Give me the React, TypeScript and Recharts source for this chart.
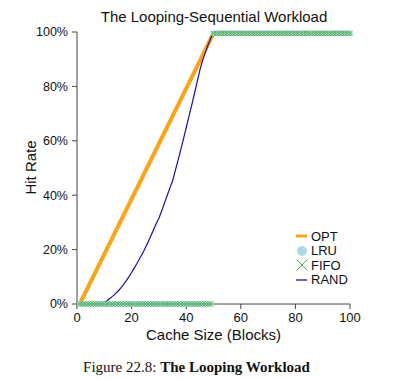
import {
  ComposedChart,
  Line,
  Scatter,
  XAxis,
  YAxis,
} from 'recharts';

// cache sizes (blocks) simulated for LRU / FIFO / RAND
const cacheSizes = [
  1, 2, 3, 4, 5, 6, 7, 8, 9, 10,
  11, 12, 13, 14, 15, 16, 17, 18, 19, 20,
  21, 22, 23, 24, 25, 26, 27, 28, 29, 30,
  31, 32, 33, 34, 35, 36, 37, 38, 39, 40,
  41, 42, 43, 44, 45, 46, 47, 48, 49, 50,
  51, 52, 53, 54, 55, 56, 57, 58, 59, 60,
  61, 62, 63, 64, 65, 66, 67, 68, 69, 70,
  71, 72, 73, 74, 75, 76, 77, 78, 79, 80,
  81, 82, 83, 84, 85, 86, 87, 88, 89, 90,
  91, 92, 93, 94, 95, 96, 97, 98, 99, 100,
];

const lruHit = [
  0, 0, 0, 0, 0, 0, 0, 0, 0, 0,
  0, 0, 0, 0, 0, 0, 0, 0, 0, 0,
  0, 0, 0, 0, 0, 0, 0, 0, 0, 0,
  0, 0, 0, 0, 0, 0, 0, 0, 0, 0,
  0, 0, 0, 0, 0, 0, 0, 0, 0, 99.5,
  99.5, 99.5, 99.5, 99.5, 99.5, 99.5, 99.5, 99.5, 99.5, 99.5,
  99.5, 99.5, 99.5, 99.5, 99.5, 99.5, 99.5, 99.5, 99.5, 99.5,
  99.5, 99.5, 99.5, 99.5, 99.5, 99.5, 99.5, 99.5, 99.5, 99.5,
  99.5, 99.5, 99.5, 99.5, 99.5, 99.5, 99.5, 99.5, 99.5, 99.5,
  99.5, 99.5, 99.5, 99.5, 99.5, 99.5, 99.5, 99.5, 99.5, 99.5,
];

const fifoHit = [
  0, 0, 0, 0, 0, 0, 0, 0, 0, 0,
  0, 0, 0, 0, 0, 0, 0, 0, 0, 0,
  0, 0, 0, 0, 0, 0, 0, 0, 0, 0,
  0, 0, 0, 0, 0, 0, 0, 0, 0, 0,
  0, 0, 0, 0, 0, 0, 0, 0, 0, 99.5,
  99.5, 99.5, 99.5, 99.5, 99.5, 99.5, 99.5, 99.5, 99.5, 99.5,
  99.5, 99.5, 99.5, 99.5, 99.5, 99.5, 99.5, 99.5, 99.5, 99.5,
  99.5, 99.5, 99.5, 99.5, 99.5, 99.5, 99.5, 99.5, 99.5, 99.5,
  99.5, 99.5, 99.5, 99.5, 99.5, 99.5, 99.5, 99.5, 99.5, 99.5,
  99.5, 99.5, 99.5, 99.5, 99.5, 99.5, 99.5, 99.5, 99.5, 99.5,
];

const randHit = [
  0, 0, 0, 0, 0, 0, 0.1, 0.2, 0.4, 0.7,
  1.2, 2, 2.8, 3.7, 4.7, 5.8, 7.1, 8.5, 10, 11.6,
  13.3, 15, 16.8, 18.6, 20.6, 22.7, 24.9, 27.2, 29.5, 31.5,
  34.2, 37, 39.8, 42.6, 45.2, 49, 52.8, 56.7, 60.7, 64.8,
  69, 73, 77.3, 81.6, 86, 89.5, 92.5, 95.2, 97.8, 99.5,
  99.5, 99.5, 99.5, 99.5, 99.5, 99.5, 99.5, 99.5, 99.5, 99.5,
  99.5, 99.5, 99.5, 99.5, 99.5, 99.5, 99.5, 99.5, 99.5, 99.5,
  99.5, 99.5, 99.5, 99.5, 99.5, 99.5, 99.5, 99.5, 99.5, 99.5,
  99.5, 99.5, 99.5, 99.5, 99.5, 99.5, 99.5, 99.5, 99.5, 99.5,
  99.5, 99.5, 99.5, 99.5, 99.5, 99.5, 99.5, 99.5, 99.5, 99.5,
];

// OPT is a straight ramp, so its corner points are enough
const optSizes = [1, 50, 100];
const optHit = [0, 99.5, 99.5];

const xTicks = [0, 20, 40, 60, 80, 100];
const yTicks = [0, 20, 40, 60, 80, 100];

const COLORS = {
  opt: '#f9a51a',
  lru: '#add8e6',
  fifo: '#4cae4c',
  rand: '#1c0f9e',
  axis: '#444',
};

const FONT = '"Liberation Sans", Arial, Helvetica, sans-serif';

const toPoints = (xs: number[], ys: number[]) => xs.map((x, i) => ({ x, y: ys[i] }));

const optData = toPoints(optSizes, optHit);
const lruData = toPoints(cacheSizes, lruHit);
const fifoData = toPoints(cacheSizes, fifoHit);
const randData = toPoints(cacheSizes, randHit);

const LruDot = (p: any) => <circle cx={p.cx} cy={p.cy} r={2.8} fill={COLORS.lru} />;

const FifoDot = (p: any) => {
  const s = 2.6;
  const { cx, cy } = p;
  return (
    <path
      d={`M${cx - s},${cy - s}L${cx + s},${cy + s}M${cx - s},${cy + s}L${cx + s},${cy - s}`}
      stroke={COLORS.fifo}
      strokeWidth={1}
      fill="none"
    />
  );
};

const legendItems = [
  { label: 'OPT', kind: 'thick' },
  { label: 'LRU', kind: 'circle' },
  { label: 'FIFO', kind: 'x' },
  { label: 'RAND', kind: 'thin' },
];

function LegendIcon({ kind }: { kind: string }) {
  return (
    <svg width={14} height={14} style={{ display: 'block' }}>
      {kind === 'thick' && <line x1={1} y1={7} x2={12} y2={7} stroke={COLORS.opt} strokeWidth={3} />}
      {kind === 'circle' && <circle cx={7} cy={7} r={5} fill={COLORS.lru} />}
      {kind === 'x' && (
        <path d="M1.5,1.5L12.5,12.5M1.5,12.5L12.5,1.5" stroke={COLORS.fifo} strokeWidth={1} fill="none" />
      )}
      {kind === 'thin' && <line x1={1} y1={7} x2={12} y2={7} stroke={COLORS.rand} strokeWidth={1.3} />}
    </svg>
  );
}

export default function App() {
  return (
    <div style={{ position: 'absolute', left: 0, top: 0, width: 393, height: 379, background: '#fff' }}>
      <div
        style={{
          position: 'absolute',
          left: 0,
          width: 428,
          top: 8,
          textAlign: 'center',
          fontFamily: FONT,
          fontSize: 15,
          lineHeight: '18px',
          color: '#111',
        }}
      >
        The Looping-Sequential Workload
      </div>

      <ComposedChart width={393} height={345} margin={{ top: 32, right: 43, bottom: 0, left: 0 }}>
        <XAxis
          dataKey="x"
          type="number"
          domain={[0, 100]}
          ticks={xTicks}
          height={41}
          stroke={COLORS.axis}
          tickSize={5}
          tickMargin={4}
          tick={{ fill: '#111', fontSize: 13, fontFamily: FONT }}
          allowDuplicatedCategory={false}
        />
        <YAxis
          type="number"
          domain={[0, 100]}
          ticks={yTicks}
          width={77}
          stroke={COLORS.axis}
          tickSize={5}
          tickMargin={4}
          tickFormatter={(v) => `${v}%`}
          tick={{ fill: '#111', fontSize: 12.5, fontFamily: FONT }}
        />
        <Line
          data={optData}
          dataKey="y"
          name="OPT"
          type="linear"
          stroke={COLORS.opt}
          strokeWidth={4}
          dot={false}
          isAnimationActive={false}
        />
        <Scatter data={lruData} dataKey="y" name="LRU" shape={LruDot} isAnimationActive={false} />
        <Scatter data={fifoData} dataKey="y" name="FIFO" shape={FifoDot} isAnimationActive={false} />
        <Line
          data={randData}
          dataKey="y"
          name="RAND"
          type="linear"
          stroke={COLORS.rand}
          strokeWidth={1.2}
          dot={false}
          isAnimationActive={false}
        />
      </ComposedChart>

      <div
        style={{
          position: 'absolute',
          left: 295,
          top: 229,
          fontFamily: FONT,
          fontSize: 13,
          color: '#111',
        }}
      >
        {legendItems.map((it) => (
          <div key={it.label} style={{ display: 'flex', alignItems: 'center', height: 14.5 }}>
            <LegendIcon kind={it.kind} />
            <span style={{ marginLeft: 2 }}>{it.label}</span>
          </div>
        ))}
      </div>

      <div
        style={{
          position: 'absolute',
          left: 20,
          top: 157,
          width: 20,
          height: 20,
          display: 'flex',
          alignItems: 'center',
          justifyContent: 'center',
        }}
      >
        <span
          style={{
            transform: 'rotate(-90deg)',
            whiteSpace: 'nowrap',
            fontFamily: FONT,
            fontSize: 15,
            color: '#111',
          }}
        >
          Hit Rate
        </span>
      </div>

      <div
        style={{
          position: 'absolute',
          left: 77,
          width: 273,
          top: 326,
          textAlign: 'center',
          fontFamily: FONT,
          fontSize: 15,
          lineHeight: '18px',
          color: '#111',
        }}
      >
        Cache Size (Blocks)
      </div>

      <div
        style={{
          position: 'absolute',
          left: 0,
          width: 393,
          top: 358,
          textAlign: 'center',
          fontFamily: '"Liberation Serif", "Times New Roman", serif',
          fontSize: 15,
          lineHeight: '18px',
          color: '#111',
        }}
      >
        Figure 22.8: <b>The Looping Workload</b>
      </div>
    </div>
  );
}
